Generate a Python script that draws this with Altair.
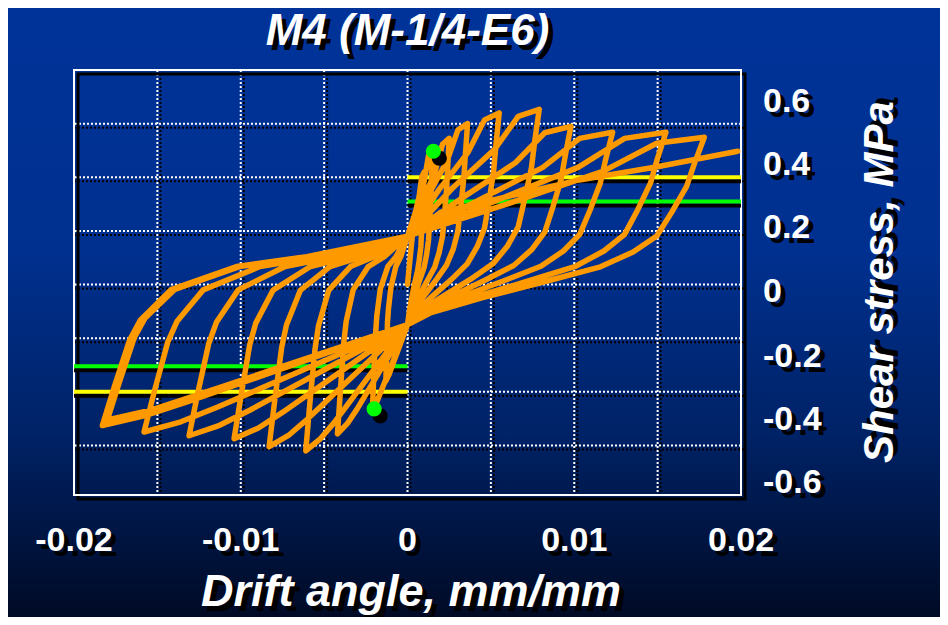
import altair as alt
import pandas as pd

# ---------------- data ----------------
# hysteresis path: drift angle (mm/mm) and shear stress (MPa)
drift = [
    0, 0.0004, 0.0007, 0.00085, 0.001,
    0.00095, 0.0009, 0.00085, 0.0008, 0.0007, 0.0006, 0.00045, 0.00025, 0.0001, 0,
    -0.0009, -0.0011, -0.0013,
    -0.00125, -0.0012, -0.00114, -0.001, -0.0007, -0.0004, 0,
    # cycle 1
    0.0005, 0.001, 0.00126, 0.0015,
    0.00145, 0.00141, 0.00134, 0.00126, 0.00114, 0.00098, 0.00072, 0.00038, 0.00012, 0,
    -0.0015, -0.0018, -0.0021,
    -0.00202, -0.00191, -0.00184, -0.00163, -0.00118, -0.00069, 0,
    # cycle 2
    0.00085, 0.00165, 0.0021, 0.0025,
    0.00242, 0.00235, 0.00223, 0.0021, 0.0019, 0.00163, 0.0012, 0.00063, 0.0002, 0,
    -0.003, -0.0036, -0.0042,
    -0.00403, -0.00382, -0.00368, -0.00326, -0.00235, -0.00139, 0,
    # cycle 3
    0.00122, 0.00238, 0.00302, 0.0036,
    0.00348, 0.00338, 0.0032, 0.00302, 0.00274, 0.00234, 0.00173, 0.0009, 0.00029, 0,
    -0.0044, -0.00525, -0.0061,
    -0.00586, -0.00555, -0.00534, -0.00473, -0.00342, -0.00201, 0,
    # cycle 4
    0.00187, 0.00363, 0.00462, 0.0055,
    0.00531, 0.00517, 0.0049, 0.00462, 0.00418, 0.00358, 0.00264, 0.00138, 0.00044, 0,
    -0.006, -0.00714, -0.0083,
    -0.00797, -0.00755, -0.00726, -0.00643, -0.00465, -0.00274, 0,
    # cycle 5
    0.00269, 0.00521, 0.00664, 0.0079,
    0.00763, 0.00743, 0.00703, 0.00664, 0.006, 0.00514, 0.00379, 0.00198, 0.00063, 0,
    -0.0075, -0.00894, -0.0104,
    -0.00998, -0.00946, -0.0091, -0.00806, -0.00582, -0.00343, 0,
    # cycle 6
    0.00333, 0.00647, 0.00823, 0.0098,
    0.00947, 0.00921, 0.00872, 0.00823, 0.00745, 0.00637, 0.0047, 0.00245, 0.00078, 0,
    -0.00943, -0.01127, -0.0131,
    -0.01258, -0.01192, -0.01146, -0.01015, -0.00734, -0.00432, 0,
    # cycle 7
    0.00418, 0.00812, 0.01033, 0.0123,
    0.01188, 0.01156, 0.01095, 0.01033, 0.00935, 0.008, 0.0059, 0.00308, 0.00098, 0,
    -0.01138, -0.01359, -0.0158,
    -0.01517, -0.01438, -0.01383, -0.01225, -0.00885, -0.00521, 0,
    # cycle 8
    0.00527, 0.01023, 0.01302, 0.0155,
    0.01497, 0.01457, 0.0138, 0.01302, 0.01178, 0.01008, 0.00744, 0.00388, 0.00124, 0,
    -0.01318, -0.01574, -0.0183,
    -0.01757, -0.01665, -0.01601, -0.01418, -0.01025, -0.00604, 0,
    # cycle 9
    0.00605, 0.01175, 0.01495, 0.0178,
    0.0172, 0.01673, 0.01584, 0.01495, 0.01353, 0.01157, 0.00854, 0.00445, 0.00142, 0,
    -0.01296, -0.01548, -0.018,
    -0.01728, -0.01638, -0.01575, -0.01395, -0.01008, -0.00594, 0,
    # final push
    0.0005, 0.002, 0.0103, 0.0149, 0.0198,
]
stress = [
    0, 0.25, 0.33, 0.40, 0.42,
    0.34, 0.28, 0.20, 0.14, 0.09, 0.05, 0.01, -0.05, -0.105, -0.15,
    -0.30, -0.335, -0.36,
    -0.26, -0.14, -0.09, -0.013, 0.067, 0.104, 0.18,
    # cycle 1
    0.275, 0.385, 0.48, 0.50,
    0.41, 0.333, 0.245, 0.165, 0.11, 0.06, 0.015, -0.05, -0.105, -0.15,
    -0.385, -0.432, -0.464,
    -0.334, -0.181, -0.116, -0.017, 0.067, 0.104, 0.18,
    # cycle 2
    0.30, 0.42, 0.523, 0.545,
    0.447, 0.362, 0.267, 0.18, 0.12, 0.065, 0.016, -0.05, -0.105, -0.15,
    -0.462, -0.518, -0.557,
    -0.401, -0.217, -0.139, -0.02, 0.067, 0.104, 0.18,
    # cycle 3
    0.33, 0.462, 0.576, 0.60,
    0.492, 0.399, 0.294, 0.198, 0.132, 0.072, 0.018, -0.05, -0.105, -0.15,
    -0.515, -0.577, -0.62,
    -0.446, -0.242, -0.155, -0.022, 0.067, 0.104, 0.18,
    # cycle 4
    0.352, 0.493, 0.614, 0.64,
    0.525, 0.426, 0.314, 0.211, 0.141, 0.077, 0.019, -0.05, -0.105, -0.15,
    -0.502, -0.563, -0.605,
    -0.436, -0.236, -0.151, -0.022, 0.067, 0.104, 0.18,
    # cycle 5
    0.359, 0.503, 0.627, 0.653,
    0.535, 0.434, 0.32, 0.215, 0.144, 0.078, 0.02, -0.05, -0.105, -0.15,
    -0.477, -0.535, -0.575,
    -0.414, -0.224, -0.144, -0.021, 0.067, 0.104, 0.18,
    # cycle 6
    0.325, 0.454, 0.566, 0.59,
    0.484, 0.392, 0.289, 0.195, 0.13, 0.071, 0.018, -0.05, -0.105, -0.15,
    -0.468, -0.525, -0.564,
    -0.406, -0.22, -0.141, -0.02, 0.067, 0.104, 0.18,
    # cycle 7
    0.312, 0.437, 0.545, 0.568,
    0.466, 0.378, 0.278, 0.187, 0.125, 0.068, 0.017, -0.05, -0.105, -0.15,
    -0.457, -0.512, -0.55,
    -0.396, -0.215, -0.138, -0.02, 0.067, 0.104, 0.18,
    # cycle 8
    0.312, 0.437, 0.545, 0.568,
    0.466, 0.378, 0.278, 0.187, 0.125, 0.068, 0.017, -0.05, -0.105, -0.15,
    -0.437, -0.489, -0.526,
    -0.379, -0.205, -0.132, -0.019, 0.067, 0.104, 0.18,
    # cycle 9
    0.302, 0.423, 0.527, 0.549,
    0.45, 0.365, 0.269, 0.181, 0.121, 0.066, 0.016, -0.05, -0.105, -0.15,
    -0.419, -0.47, -0.505,
    -0.364, -0.197, -0.126, -0.018, 0.067, 0.104, 0.18,
    # final push
    0.20, 0.27, 0.39, 0.438, 0.497,
]

dot_drift = [0.00155, -0.0020]
dot_stress = [0.497, -0.464]

yellow_from = [0.0, -0.02]
yellow_to = [0.02, 0.0]
yellow_level = [0.40, -0.40]
green_from = [0.0, -0.02]
green_to = [0.02, 0.0]
green_level = [0.31, -0.305]

x_ticks = [-0.02, -0.01, 0, 0.01, 0.02]
x_tick_labels = ["-0.02", "-0.01", "0", "0.01", "0.02"]
y_tick_labels = ["0.6", "0.4", "0.2", "0", "-0.2", "-0.4", "-0.6"]
y_label_at = [0.682, 0.446, 0.210, -0.027, -0.270, -0.506, -0.741]
x_grid = [-0.015, -0.01, -0.005, 0, 0.005, 0.01, 0.015]
y_grid = [0.6, 0.4, 0.2, 0, -0.2, -0.4, -0.6]

title_text = "M4 (M-1/4-E6)"
x_title = "Drift angle, mm/mm"
y_title = "Shear stress, MPa"

# ---------------- layout / style ----------------
W, H = 667, 425
PAD = {"left": 66, "top": 62, "right": 199, "bottom": 122}
FONT = "Liberation Sans"
ORANGE = "#FF9900"

xs = alt.Scale(domain=[-0.02, 0.02], nice=False, zero=False)
ys = alt.Scale(domain=[-0.785, 0.8], nice=False, zero=False)

curve = pd.DataFrame({"i": list(range(len(drift))), "drift": drift, "stress": stress})
one = pd.DataFrame({"k": [0]})
dots = pd.DataFrame({"drift": dot_drift, "stress": dot_stress})
yel = pd.DataFrame({"a": yellow_from, "b": yellow_to, "y": yellow_level})
grn = pd.DataFrame({"a": green_from, "b": green_to, "y": green_level})
vg = pd.DataFrame({"g": x_grid})
hg = pd.DataFrame({"g": y_grid})
xl = pd.DataFrame({"v": x_ticks, "t": x_tick_labels})
yl = pd.DataFrame({"v": y_label_at, "t": y_tick_labels})

X = lambda f: alt.X(f, scale=xs, axis=None)
Y = lambda f: alt.Y(f, scale=ys, axis=None)

bg = alt.Chart(one).mark_rect(
    fill=alt.LinearGradient(
        gradient="linear",
        stops=[
            alt.GradientStop(color="#003399", offset=0),
            alt.GradientStop(color="#00308f", offset=0.4),
            alt.GradientStop(color="#002266", offset=0.7),
            alt.GradientStop(color="#000a24", offset=1),
        ],
        x1=0, x2=0, y1=0, y2=1,
    )
).encode(
    x=alt.value(-PAD["left"]), x2=alt.value(W + PAD["right"]),
    y=alt.value(-PAD["top"]), y2=alt.value(H + PAD["bottom"]),
)

vgrid_sh = alt.Chart(vg).mark_rule(color="black", strokeWidth=2, strokeDash=[2, 2],
                                   xOffset=3, yOffset=4).encode(x=X("g:Q"))
hgrid_sh = alt.Chart(hg).mark_rule(color="black", strokeWidth=2, strokeDash=[2, 2],
                                   xOffset=3, yOffset=4).encode(y=Y("g:Q"))
vgrid = alt.Chart(vg).mark_rule(color="white", strokeWidth=2, strokeDash=[2, 2]).encode(x=X("g:Q"))
hgrid = alt.Chart(hg).mark_rule(color="white", strokeWidth=2, strokeDash=[2, 2]).encode(y=Y("g:Q"))

border_sh = alt.Chart(one).mark_rect(filled=False, stroke="black", strokeWidth=3).encode(
    x=alt.value(4), x2=alt.value(W + 4), y=alt.value(4), y2=alt.value(H + 4))
border = alt.Chart(one).mark_rect(filled=False, stroke="white", strokeWidth=2).encode(
    x=alt.value(0), x2=alt.value(W), y=alt.value(0), y2=alt.value(H))

def level(df, color):
    sh = alt.Chart(df).mark_rule(color="black", strokeWidth=4, yOffset=4).encode(
        x=X("a:Q"), x2="b:Q", y=Y("y:Q"))
    ln = alt.Chart(df).mark_rule(color=color, strokeWidth=4).encode(
        x=X("a:Q"), x2="b:Q", y=Y("y:Q"))
    return [sh, ln]

line = alt.Chart(curve).mark_line(color=ORANGE, strokeWidth=5.5, strokeJoin="round",
                                  strokeCap="round").encode(
    x=X("drift:Q"), y=Y("stress:Q"), order="i:Q")

dot_sh = alt.Chart(dots).mark_circle(size=230, color="black", opacity=1,
                                     xOffset=6, yOffset=7).encode(x=X("drift:Q"), y=Y("stress:Q"))
dot = alt.Chart(dots).mark_circle(size=230, color="#00FF00", opacity=1).encode(
    x=X("drift:Q"), y=Y("stress:Q"))

def shadowed_text(data, enc, **kw):
    out = []
    for color, off in (("black", 5), ("white", 0)):
        out.append(alt.Chart(data).mark_text(font=FONT, color=color, dx=off, dy=off, **kw).encode(**enc))
    return out

ytexts = shadowed_text(yl, dict(x=alt.value(W + 22), y=Y("v:Q"), text="t:N"),
                       fontSize=34, fontWeight="bold", align="left", baseline="middle")
xtexts = shadowed_text(xl, dict(x=X("v:Q"), y=alt.value(H + 46), text="t:N"),
                       fontSize=34, fontWeight="bold", align="center", baseline="middle")
ttl = shadowed_text(one, dict(x=alt.value(W / 2), y=alt.value(-25), text=alt.value(title_text)),
                    fontSize=44, fontWeight="bold", fontStyle="italic", align="center",
                    baseline="alphabetic")
xttl = shadowed_text(one, dict(x=alt.value(337), y=alt.value(H + 111), text=alt.value(x_title)),
                     fontSize=45, fontWeight="bold", fontStyle="italic", align="center",
                     baseline="alphabetic")
yttl = shadowed_text(one, dict(x=alt.value(W + 152), y=alt.value(212), text=alt.value(y_title)),
                     fontSize=42, fontWeight="bold", fontStyle="italic", align="center",
                     baseline="alphabetic", angle=270)

layers = [bg, vgrid_sh, hgrid_sh, vgrid, hgrid, border_sh, border]
layers += level(yel, "#FFFF00") + level(grn, "#00FF00")
layers += [line, dot_sh, dot]
layers += ytexts + xtexts + ttl + xttl + yttl

chart = alt.layer(*layers).properties(
    width=W, height=H, padding=PAD,
    autosize=alt.AutoSizeParams(type="none"),
    background="#001a55",
).configure_view(strokeWidth=0)

chart.save("out.html", embed_options={"renderer": "svg", "actions": False})
